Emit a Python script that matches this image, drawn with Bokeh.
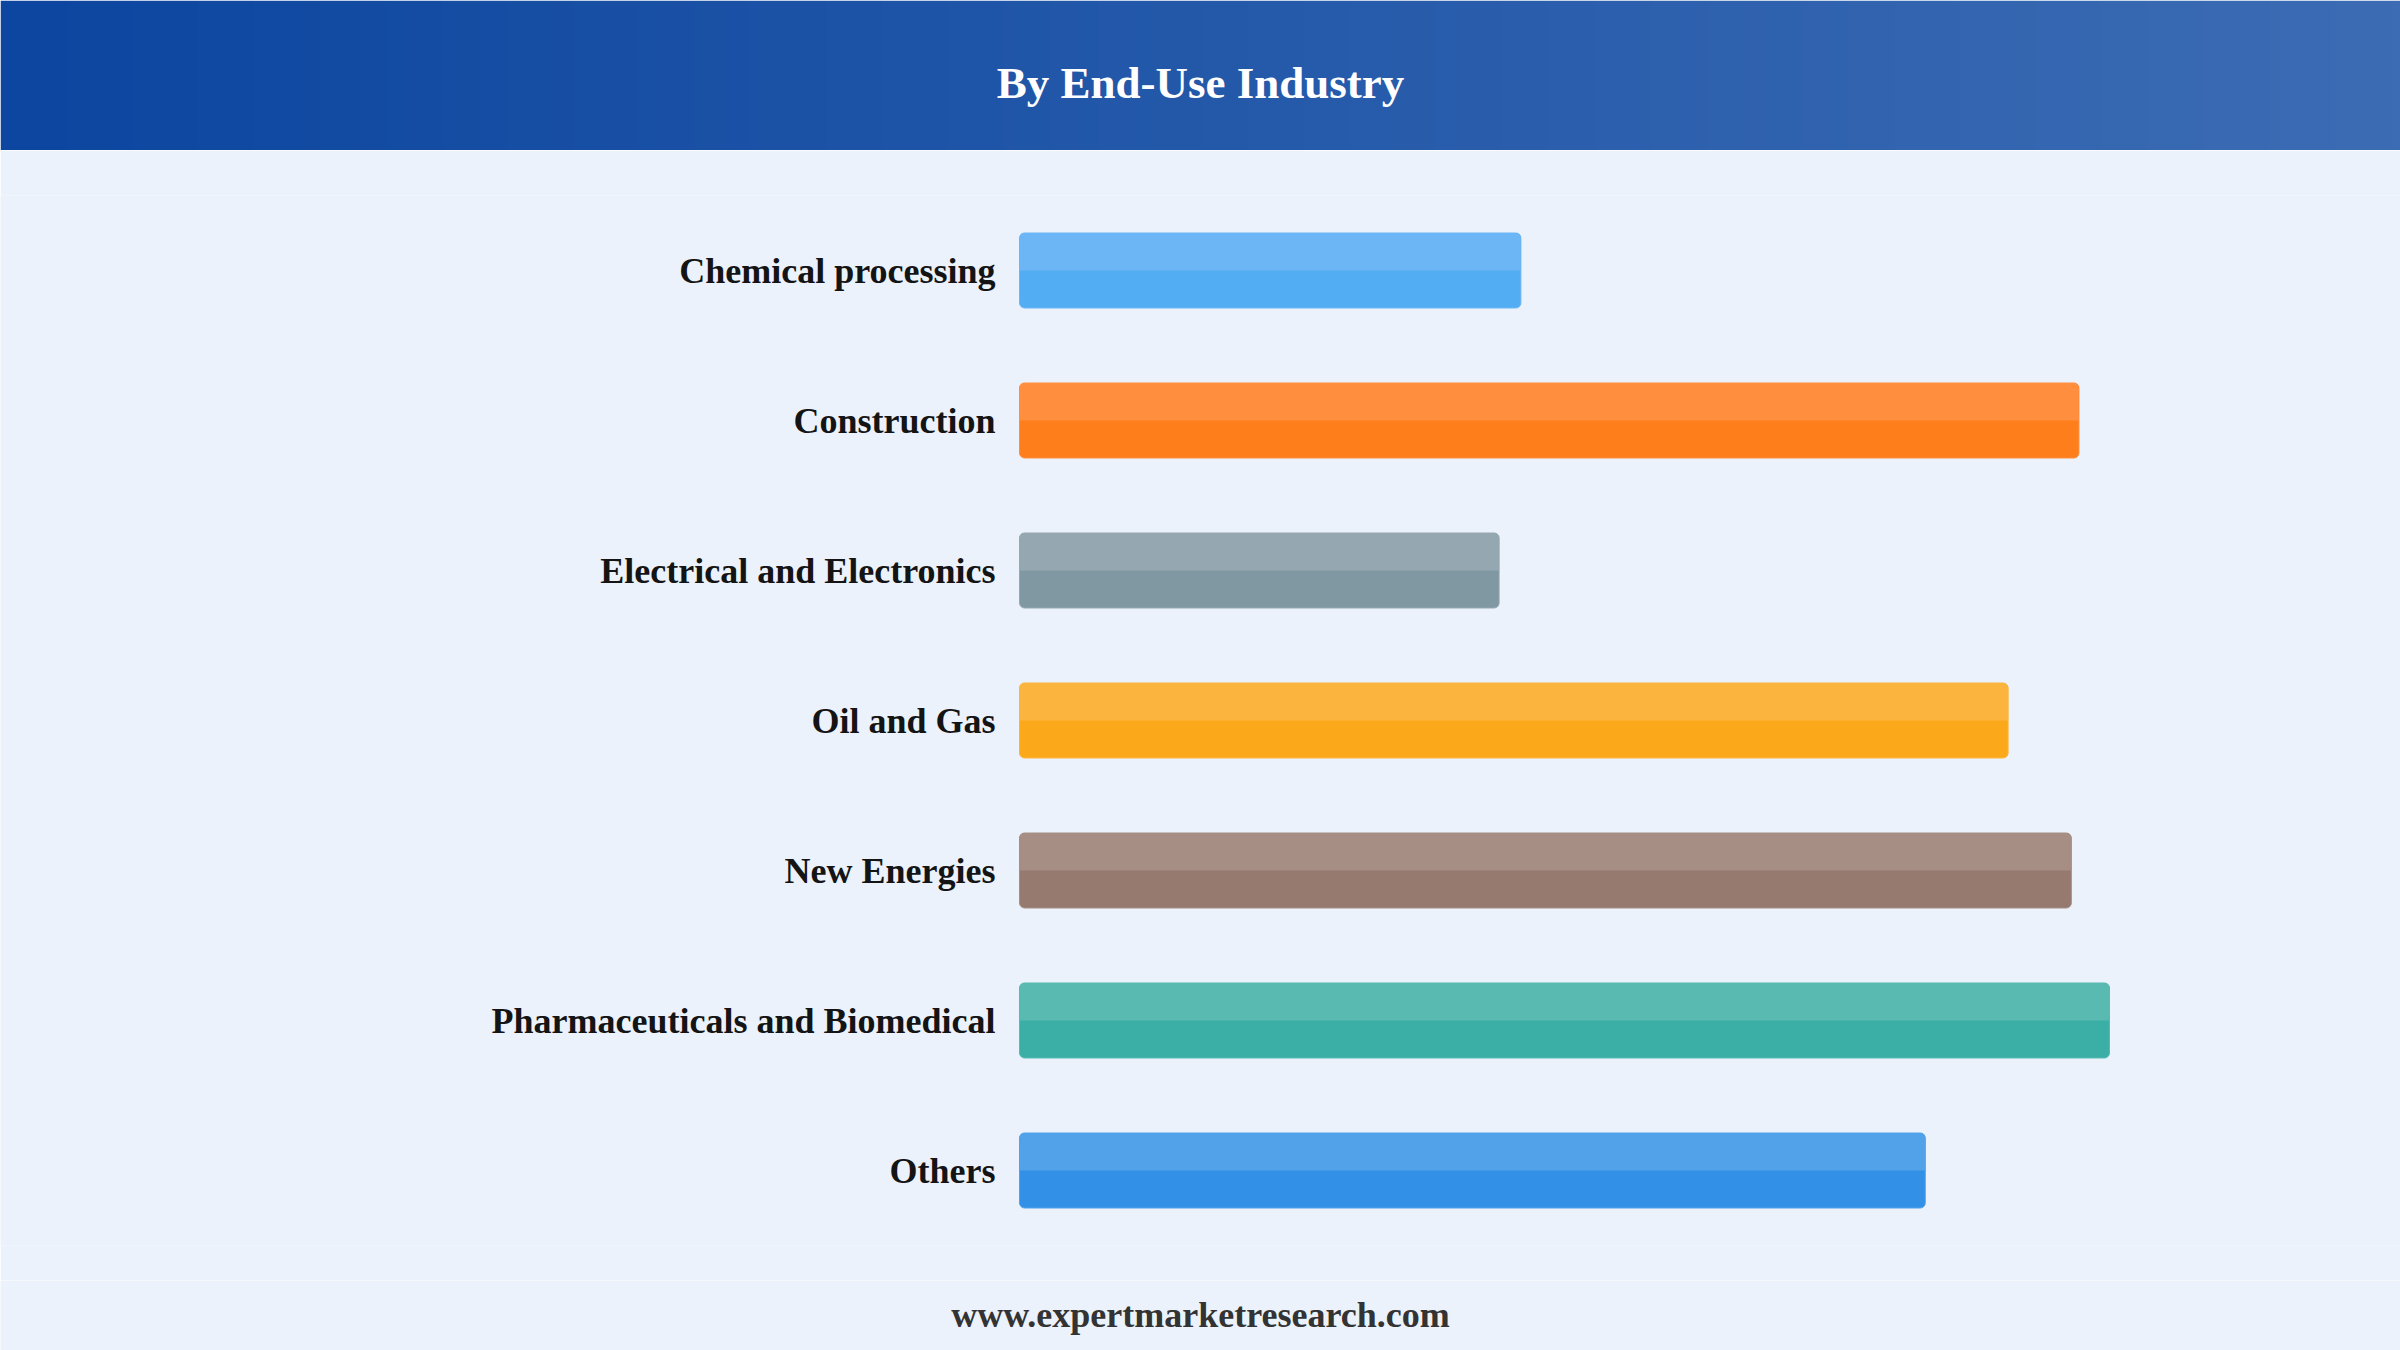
import numpy as np
from bokeh.plotting import figure
from bokeh.layouts import column
from bokeh.models import FactorRange, ColumnDataSource, Range1d
from bokeh.transform import dodge
from bokeh.core.properties import value
from bokeh.embed import file_html
from bokeh.resources import INLINE

# ---- data ----
categories = ["Chemical processing", "Construction", "Electrical and Electronics",
              "Oil and Gas", "New Energies", "Pharmaceuticals and Biomedical", "Others"]
values = [46.0, 97.2, 44.0, 90.7, 96.5, 100.0, 83.1]
base_colors = ["#52ADF2", "#FF7E1C", "#7F98A2", "#FBA91A", "#96796F", "#3BAFA6", "#3291E6"]
top_colors = ["#6DB6F5", "#FF8E3E", "#95A8B1", "#FBB53E", "#A68E85", "#59BAB1", "#52A2EA"]

title_text = "By End-Use Industry"
footer_text = "www.expertmarketresearch.com"

BG = "#EBF2FB"
W = 2400
SERIF = "Liberation Serif"


def blank(fig):
    fig.axis.visible = False
    fig.grid.visible = False
    fig.outline_line_color = None


# ---- header ----
header = figure(width=W, height=150, output_backend="svg", toolbar_location=None,
                x_range=Range1d(0, 1), y_range=Range1d(0, 1),
                min_border=0, border_fill_color=BG)
blank(header)
n = 256
c0 = np.array([12, 70, 160])
c1 = np.array([60, 108, 180])
t = np.linspace(0, 1, n)
img = np.zeros((1, n), dtype=np.uint32)
view = img.view(dtype=np.uint8).reshape((1, n, 4))
for i in range(n):
    c = (c0 + (c1 - c0) * t[i]).astype(np.uint8)
    view[0, i, 0] = c[0]
    view[0, i, 1] = c[1]
    view[0, i, 2] = c[2]
    view[0, i, 3] = 255
header.image_rgba(image=[img], x=0, y=0, dw=1, dh=1)
header.text(x=[0.5], y=[0.453], text=[title_text], text_align="center", text_baseline="middle",
            text_color="white", text_font=value(SERIF), text_font_style="bold",
            text_font_size="45px")

# ---- main chart ----
src = ColumnDataSource(dict(cat=categories, val=values, base=base_colors, top=top_colors))
p = figure(width=W, height=1130, output_backend="svg", toolbar_location=None,
           y_range=FactorRange(factors=list(reversed(categories)), range_padding=0),
           x_range=Range1d(-93.49, 126.70),
           min_border_top=45, min_border_bottom=35, min_border_left=0, min_border_right=0,
           background_fill_color=BG, border_fill_color=BG)
blank(p)
p.hbar(y="cat", right="val", left=0, height=0.5, source=src,
       fill_color="base", line_color="top", line_width=1, border_radius=5)
p.hbar(y=dodge("cat", 0.125, range=p.y_range), right="val", left=0, height=0.25, source=src,
       fill_color="top", line_color=None, border_radius=(5, 5, 0, 0))
p.text(x=0, y="cat", text="cat", source=src, x_offset=-24, text_align="right",
       text_baseline="middle", text_font=value(SERIF), text_font_style="bold",
       text_font_size="36px", text_color="#141414")

# ---- footer ----
footer = figure(width=W, height=70, output_backend="svg", toolbar_location=None,
                x_range=Range1d(0, 1), y_range=Range1d(0, 1), min_border=0,
                background_fill_color=BG, border_fill_color=BG)
blank(footer)
footer.text(x=[0.5], y=[0.514], text=[footer_text], text_align="center", text_baseline="middle",
            text_color="#333333", text_font=value(SERIF), text_font_style="bold",
            text_font_size="36px")

layout = column(header, p, footer, spacing=0)
open("out.html", "w").write(file_html(layout, INLINE))
